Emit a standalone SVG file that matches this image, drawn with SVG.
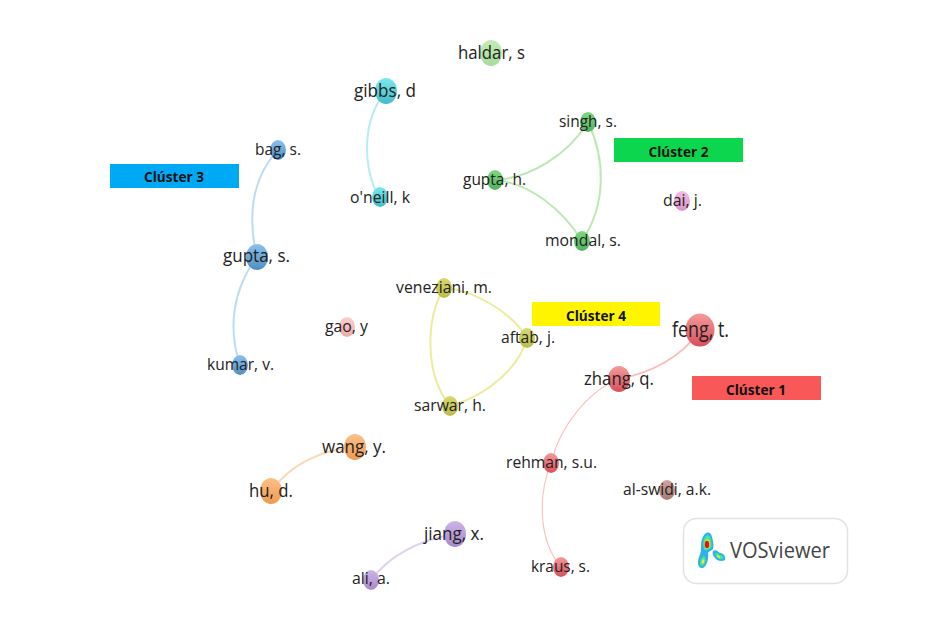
<svg xmlns="http://www.w3.org/2000/svg" width="940" height="631" viewBox="0 0 940 631">
<defs>
<linearGradient id="gRed" x1="0" y1="0" x2="0" y2="1"><stop offset="0" stop-color="#f59a9a"/><stop offset="1" stop-color="#d9505c"/></linearGradient>
<linearGradient id="gGreen" x1="0" y1="0" x2="0" y2="1"><stop offset="0" stop-color="#80d680"/><stop offset="1" stop-color="#4fb35f"/></linearGradient>
<linearGradient id="gLime" x1="0" y1="0" x2="0" y2="1"><stop offset="0" stop-color="#c4ecb4"/><stop offset="1" stop-color="#a6dc9c"/></linearGradient>
<linearGradient id="gBlue" x1="0" y1="0" x2="0" y2="1"><stop offset="0" stop-color="#8dc0ee"/><stop offset="1" stop-color="#4e8fc0"/></linearGradient>
<linearGradient id="gCyan" x1="0" y1="0" x2="0" y2="1"><stop offset="0" stop-color="#7ce8ee"/><stop offset="1" stop-color="#40bcc8"/></linearGradient>
<linearGradient id="gOlive" x1="0" y1="0" x2="0" y2="1"><stop offset="0" stop-color="#d8d870"/><stop offset="1" stop-color="#bcbc48"/></linearGradient>
<linearGradient id="gOrange" x1="0" y1="0" x2="0" y2="1"><stop offset="0" stop-color="#fcc088"/><stop offset="1" stop-color="#f09a50"/></linearGradient>
<linearGradient id="gPurple" x1="0" y1="0" x2="0" y2="1"><stop offset="0" stop-color="#cdb4e8"/><stop offset="1" stop-color="#a888cc"/></linearGradient>
<linearGradient id="gPink" x1="0" y1="0" x2="0" y2="1"><stop offset="0" stop-color="#f4bce4"/><stop offset="1" stop-color="#dc94cc"/></linearGradient>
<linearGradient id="gSalmon" x1="0" y1="0" x2="0" y2="1"><stop offset="0" stop-color="#fad0d0"/><stop offset="1" stop-color="#eeaaaa"/></linearGradient>
<linearGradient id="gBrown" x1="0" y1="0" x2="0" y2="1"><stop offset="0" stop-color="#cfa49c"/><stop offset="1" stop-color="#a87c74"/></linearGradient>
</defs>
<style>
text{font-family:"Open Sans","Noto Sans","DejaVu Sans",sans-serif;fill:#222;text-anchor:middle}
.l{fill:none;stroke-width:2}
.t{fill:none;stroke-width:1.1}
.b{font-family:"Open Sans","Noto Sans",sans-serif;font-weight:700;font-size:15px;fill:#111}
</style>
<rect width="940" height="631" fill="#fff"/>
<g id="connectors">
<path class="l" stroke="#b4eef4" d="M386 91C362 120 362 165 379 198"/>
<path class="l" stroke="#bcdcf6" d="M278 150C250 180 248 220 257 257"/>
<path class="l" stroke="#bcdcf6" d="M257 257C232 290 228 330 240 365"/>
<path class="l" stroke="#bce8b4" d="M495 180C530 178 568 155 588 122"/>
<path class="l" stroke="#bce8b4" d="M495 180C530 183 563 210 582 241"/>
<path class="l" stroke="#bce8b4" d="M588 122C606 160 606 205 582 241"/>
<path class="l" stroke="#ecec9c" d="M444 288C472 290 510 310 527 338"/>
<path class="l" stroke="#ecec9c" d="M444 288C425 320 425 375 450 406"/>
<path class="l" stroke="#ecec9c" d="M527 338C520 365 490 395 450 406"/>
<path class="l" stroke="#fcbcb8" d="M700 331C682 355 655 372 619 379"/>
<path class="t" stroke="#fcc0bc" d="M619 379C590 390 560 425 551 463"/>
<path class="t" stroke="#fcc0bc" d="M551 463C538 495 538 540 561 567"/>
<path class="l" stroke="#fcd8b4" d="M355 447C320 450 290 465 271 491"/>
<path class="l" stroke="#e0d0f4" d="M455 534C420 540 390 555 371 580"/>
</g>
<g id="n-haldar"><ellipse cx="491" cy="53" rx="11" ry="13" fill="url(#gLime)"/><text x="491.500" y="59" font-size="19" textLength="67" lengthAdjust="spacingAndGlyphs">haldar, s</text></g>
<g id="n-gibbs"><ellipse cx="386" cy="91" rx="11" ry="13" fill="url(#gCyan)"/><text x="385" y="97" font-size="19" textLength="62" lengthAdjust="spacingAndGlyphs">gibbs, d</text></g>
<g id="n-oneill"><ellipse cx="380" cy="197" rx="8" ry="10" fill="url(#gCyan)"/><text x="380" y="203" font-size="17" textLength="60" lengthAdjust="spacingAndGlyphs">o'neill, k</text></g>
<g id="n-singh"><ellipse cx="588" cy="122" rx="8" ry="10" fill="url(#gGreen)"/><text x="588" y="127" font-size="17" textLength="58" lengthAdjust="spacingAndGlyphs">singh, s.</text></g>
<g id="n-guptah"><ellipse cx="495" cy="180" rx="8" ry="10" fill="url(#gGreen)"/><text x="494.500" y="185" font-size="17" textLength="63" lengthAdjust="spacingAndGlyphs">gupta, h.</text></g>
<g id="n-mondal"><ellipse cx="582" cy="241" rx="8" ry="10" fill="url(#gGreen)"/><text x="583" y="246" font-size="17" textLength="76" lengthAdjust="spacingAndGlyphs">mondal, s.</text></g>
<g id="n-dai"><ellipse cx="682" cy="201" rx="8" ry="10" fill="url(#gPink)"/><text x="682.500" y="206" font-size="17" textLength="39" lengthAdjust="spacingAndGlyphs">dai, j.</text></g>
<g id="n-bag"><ellipse cx="278" cy="150" rx="8" ry="10" fill="url(#gBlue)"/><text x="278" y="155" font-size="17" textLength="46" lengthAdjust="spacingAndGlyphs">bag, s.</text></g>
<g id="n-guptas"><ellipse cx="257" cy="257" rx="11" ry="13" fill="url(#gBlue)"/><text x="256.500" y="262" font-size="19" textLength="67" lengthAdjust="spacingAndGlyphs">gupta, s.</text></g>
<g id="n-kumar"><ellipse cx="240" cy="365" rx="8" ry="10" fill="url(#gBlue)"/><text x="240.500" y="370" font-size="17" textLength="67" lengthAdjust="spacingAndGlyphs">kumar, v.</text></g>
<g id="n-gao"><ellipse cx="347" cy="327" rx="8" ry="10" fill="url(#gSalmon)"/><text x="346.500" y="332" font-size="17" textLength="43" lengthAdjust="spacingAndGlyphs">gao, y</text></g>
<g id="n-veneziani"><ellipse cx="444" cy="288" rx="8" ry="10" fill="url(#gOlive)"/><text x="444" y="293" font-size="17" textLength="96" lengthAdjust="spacingAndGlyphs">veneziani, m.</text></g>
<g id="n-aftab"><ellipse cx="527" cy="338" rx="8" ry="10" fill="url(#gOlive)"/><text x="528" y="343" font-size="17" textLength="54" lengthAdjust="spacingAndGlyphs">aftab, j.</text></g>
<g id="n-sarwar"><ellipse cx="450" cy="406" rx="8" ry="10" fill="url(#gOlive)"/><text x="450" y="411" font-size="17" textLength="72" lengthAdjust="spacingAndGlyphs">sarwar, h.</text></g>
<g id="n-feng"><ellipse cx="700" cy="330" rx="14.500" ry="16.500" fill="url(#gRed)"/><text x="700.500" y="337" font-size="21" textLength="57" lengthAdjust="spacingAndGlyphs">feng, t.</text></g>
<g id="n-zhang"><ellipse cx="619" cy="379" rx="11" ry="13" fill="url(#gRed)"/><text x="619" y="385" font-size="19" textLength="70" lengthAdjust="spacingAndGlyphs">zhang, q.</text></g>
<g id="n-rehman"><ellipse cx="551" cy="463" rx="8" ry="10" fill="url(#gRed)"/><text x="551.500" y="468" font-size="17" textLength="91" lengthAdjust="spacingAndGlyphs">rehman, s.u.</text></g>
<g id="n-alswidi"><ellipse cx="667" cy="490" rx="8" ry="10" fill="url(#gBrown)"/><text x="667" y="495" font-size="17" textLength="88" lengthAdjust="spacingAndGlyphs">al-swidi, a.k.</text></g>
<g id="n-kraus"><ellipse cx="561" cy="567" rx="8" ry="10" fill="url(#gRed)"/><text x="560.500" y="572" font-size="17" textLength="59" lengthAdjust="spacingAndGlyphs">kraus, s.</text></g>
<g id="n-wang"><ellipse cx="355" cy="447" rx="11" ry="13" fill="url(#gOrange)"/><text x="354" y="453" font-size="19" textLength="64" lengthAdjust="spacingAndGlyphs">wang, y.</text></g>
<g id="n-hu"><ellipse cx="271" cy="491" rx="11" ry="13" fill="url(#gOrange)"/><text x="271" y="497" font-size="19" textLength="44" lengthAdjust="spacingAndGlyphs">hu, d.</text></g>
<g id="n-jiang"><ellipse cx="455" cy="534" rx="11" ry="13" fill="url(#gPurple)"/><text x="454" y="540" font-size="19" textLength="60" lengthAdjust="spacingAndGlyphs">jiang, x.</text></g>
<g id="n-ali"><ellipse cx="371" cy="580" rx="8" ry="10" fill="url(#gPurple)"/><text x="371" y="584" font-size="17" textLength="38" lengthAdjust="spacingAndGlyphs">ali, a.</text></g>
<g id="c3"><rect x="110" y="164" width="129" height="24" fill="#00a9f4"/><text class="b" x="174" y="182" textLength="60" lengthAdjust="spacingAndGlyphs">Clúster 3</text></g>
<g id="c2"><rect x="614" y="138" width="129" height="24" fill="#0cd64e"/><text class="b" x="678.500" y="157" textLength="60" lengthAdjust="spacingAndGlyphs">Clúster 2</text></g>
<g id="c4"><rect x="532" y="302" width="128" height="24" fill="#fff500"/><text class="b" x="596" y="321" textLength="60" lengthAdjust="spacingAndGlyphs">Clúster 4</text></g>
<g id="c1"><rect x="692" y="376" width="129" height="24" fill="#f85858"/><text class="b" x="756" y="395" textLength="60" lengthAdjust="spacingAndGlyphs">Clúster 1</text></g>
<g id="vosviewer">
<rect x="683.500" y="518.500" width="164" height="65" rx="13" fill="#fff" stroke="#e2e2e2" stroke-width="1.500"/>
<path d="M704 535C707 531 711 532 712 537C713 541 714 545 713 549C711 551 709 551 708 553C709 558 707 566 703 568C698 569 697 563 699 557C701 553 701 550 701 546C701 541 702 538 704 535Z" fill="#2ab4e8"/>
<path d="M713 551C716 549 718 552 720 553C724 553 726 557 725 560C722 562 717 561 715 558C713 556 712 553 713 551Z" fill="#2ab4e8"/>
<path d="M705 537C707 534 710 535 710.500 538C711.500 542 712 546 711 548C708 550 705 551 704 549C702.500 545 703 540 705 537ZM701.500 558C703.500 555 706 556 705.500 560C705 564 703 566 701.500 566C699.500 565 700 561 701.500 558ZM715 553C717 552 718 554 720 555C723 555 724 558 722.500 559C719 560 716 558 715 553Z" fill="#43e3a0"/>
<path d="M705 541C707 538 710 539 710 543C711 546 709 549 706 549C704 547 704 544 705 541ZM702 560C704 558 705 560 704 563C702 565 701 563 702 560ZM717 555C719 555 721 557 720 558C718 558 717 557 717 555Z" fill="#f4e628"/>
<ellipse cx="707" cy="544.500" rx="2.300" ry="3.800" fill="#d81818"/>
<text x="780" y="558" font-size="22" textLength="100" lengthAdjust="spacingAndGlyphs" style="fill:#444">VOSviewer</text>
</g>
</svg>
